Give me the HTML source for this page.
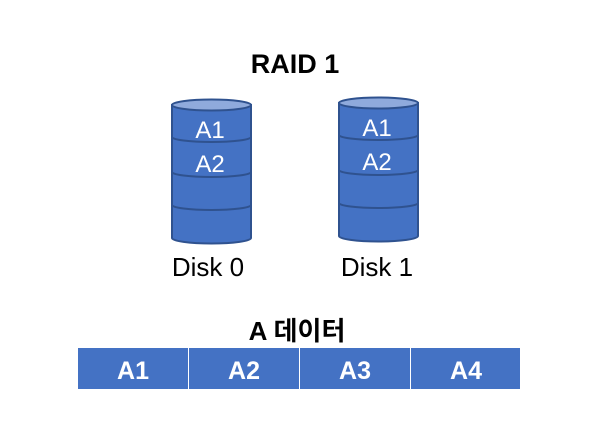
<!DOCTYPE html>
<html><head><meta charset="utf-8"><style>
body{margin:0;background:#fff;}
svg{display:block;}
</style></head><body>
<svg width="605" height="444" viewBox="0 0 605 444" xmlns="http://www.w3.org/2000/svg" font-family="'Liberation Sans','Noto Sans CJK KR',sans-serif">
<rect width="605" height="444" fill="#fff"/>
<text x="295" y="73" font-size="27" font-weight="bold" text-anchor="middle" fill="#000">RAID 1</text>
<g stroke="#2f528f" stroke-width="2" fill="#4472c4">
<path d="M172 105 L172 238 A39.5 5.5 0 0 0 251 238 L251 105 Z"/>
<ellipse cx="211.5" cy="105" rx="39.5" ry="5.5" fill="#8faadc"/>
<path d="M172 137 A39.5 5 0 0 0 251 137" fill="none"/>
<path d="M172 172 A39.5 5 0 0 0 251 172" fill="none"/>
<path d="M172 205 A39.5 5 0 0 0 251 205" fill="none"/>
</g>
<g stroke="#2f528f" stroke-width="2" fill="#4472c4">
<path d="M339 103 L339 236 A39.5 5.5 0 0 0 418 236 L418 103 Z"/>
<ellipse cx="378.5" cy="103" rx="39.5" ry="5.5" fill="#8faadc"/>
<path d="M339 135 A39.5 5 0 0 0 418 135" fill="none"/>
<path d="M339 170 A39.5 5 0 0 0 418 170" fill="none"/>
<path d="M339 203 A39.5 5 0 0 0 418 203" fill="none"/>
</g>
<g fill="#fff" font-size="24" text-anchor="middle">
<text x="210" y="138">A1</text>
<text x="210" y="172">A2</text>
<text x="377" y="136">A1</text>
<text x="377" y="170">A2</text>
</g>
<g fill="#000" font-size="26" text-anchor="middle">
<text x="208" y="276">Disk 0</text>
<text x="377" y="276">Disk 1</text>
</g>
<text x="297" y="340" font-size="26" font-weight="bold" text-anchor="middle" fill="#000">A 데이터</text>
<g fill="#4472c4">
<rect x="78" y="348" width="110" height="41"/>
<rect x="189" y="348" width="110" height="41"/>
<rect x="300" y="348" width="110" height="41"/>
<rect x="411" y="348" width="109" height="41"/>
</g>
<g fill="#fff" font-size="25" font-weight="bold" text-anchor="middle">
<text x="133" y="379">A1</text>
<text x="244" y="379">A2</text>
<text x="355" y="379">A3</text>
<text x="466" y="379">A4</text>
</g>
</svg>
</body></html>
